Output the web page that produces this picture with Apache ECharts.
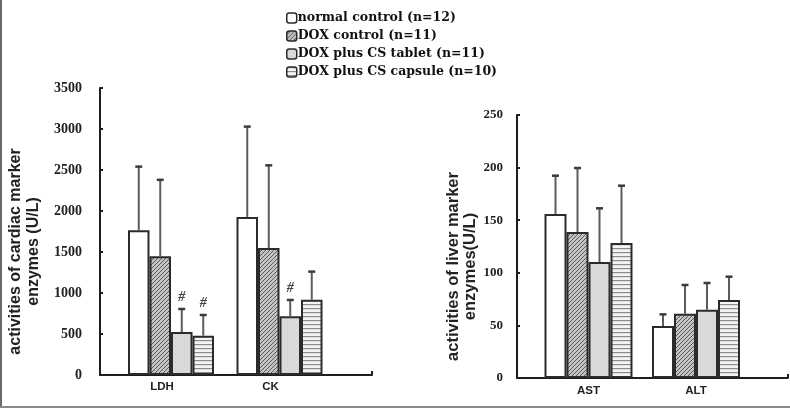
<!DOCTYPE html>
<html>
<head>
<meta charset="utf-8">
<script src="https://cdn.jsdelivr.net/npm/echarts@6/dist/echarts.min.js"></script>
<style>
  html, body { margin: 0; padding: 0; background: #fff; }
  #wrap { position: relative; width: 790px; height: 408px; }
  #chart { width: 790px; height: 408px; }
  #frameL { position: absolute; left: 0; top: 0; width: 2px; height: 408px; background: #6a6a6a; }
  #frameB { position: absolute; left: 0; top: 406px; width: 790px; height: 2px; background: #8a8a8a; }
</style>
</head>
<body>
<div id="wrap">
  <div id="chart"></div>
  <div id="frameL"></div>
  <div id="frameB"></div>
</div>
<script>
// ---------- data ----------
const groupNames = ['normal control (n=12)', 'DOX control (n=11)', 'DOX plus CS tablet (n=11)', 'DOX plus CS capsule (n=10)'];
const cardiacCategories = ['LDH', 'CK'];
const liverCategories = ['AST', 'ALT'];

// means per group: [first category, second category]
const cardiacNormal = [1765, 1927];
const cardiacDox = [1448, 1549];
const cardiacTablet = [524, 715];
const cardiacCapsule = [480, 919];
// standard deviations (upper error bars)
const cardiacNormalSD = [776, 1102];
const cardiacDoxSD = [932, 1008];
const cardiacTabletSD = [281, 200];
const cardiacCapsuleSD = [252, 342];
// significance marks
const cardiacNormalSig = ['', ''];
const cardiacDoxSig = ['', ''];
const cardiacTabletSig = ['#', '#'];
const cardiacCapsuleSig = ['#', ''];

const liverNormal = [156, 49.4];
const liverDox = [138.8, 61.1];
const liverTablet = [110.3, 64.9];
const liverCapsule = [128.3, 74.1];
const liverNormalSD = [36.3, 11.1];
const liverDoxSD = [60.8, 27.3];
const liverTabletSD = [51, 25.4];
const liverCapsuleSD = [54.5, 22.2];
const liverNormalSig = ['', ''];
const liverDoxSig = ['', ''];
const liverTabletSig = ['', ''];
const liverCapsuleSig = ['', ''];

const cardiacTicks = { min: 0, max: 3500, interval: 500 };
const liverTicks = { min: 0, max: 250, interval: 50 };

// ---------- patterns ----------
function makePattern(kind) {
  const c = document.createElement('canvas');
  const s = 4;
  c.width = s; c.height = s;
  const g = c.getContext('2d');
  if (kind === 'diag') {
    g.fillStyle = '#c4c4c4'; g.fillRect(0, 0, s, s);
    g.strokeStyle = '#5a5a5a'; g.lineWidth = 1;
    g.beginPath();
    g.moveTo(-1, s + 1); g.lineTo(s + 1, -1);
    g.moveTo(-1, 1); g.lineTo(1, -1);
    g.moveTo(s - 1, s + 1); g.lineTo(s + 1, s - 1);
    g.stroke();
  } else if (kind === 'horiz') {
    g.fillStyle = '#f4f4f4'; g.fillRect(0, 0, s, s);
    g.fillStyle = '#8c8c8c'; g.fillRect(0, 0, s, 1.2);
  }
  return c;
}
const fills = [
  '#ffffff',
  { image: makePattern('diag'), repeat: 'repeat' },
  '#d9d9d9',
  { image: makePattern('horiz'), repeat: 'repeat' }
];

const chart = echarts.init(document.getElementById('chart'), null, { renderer: 'canvas' });

const serifBold = { fontFamily: 'Liberation Serif', fontWeight: 'bold', color: '#222' };
const sansBold = { fontFamily: 'Liberation Sans', fontWeight: 'bold', color: '#222' };

function barSeries(name, gridIdx, values, bw) {
  return {
    type: 'bar', name: name, xAxisIndex: gridIdx, yAxisIndex: gridIdx,
    data: values, barWidth: bw, barGap: '0%',
    itemStyle: { color: fills[groupNames.indexOf(name)], borderColor: '#2b2b2b', borderWidth: 2 },
    emphasis: { disabled: true }, z: 2
  };
}
function errSeries(k, gridIdx, means, sds, sigs, bw) {
  return {
    type: 'custom', name: 'err' + gridIdx + '_' + k,
    xAxisIndex: gridIdx, yAxisIndex: gridIdx, z: 3, silent: true,
    data: means.map((m, i) => [i, m, m + sds[i], sigs[i]]),
    renderItem: function (params, api) {
      const ci = api.value(0);
      const base = api.coord([ci, api.value(1)]);
      const top = api.coord([ci, api.value(2)]);
      const x = base[0] + (k - 1.5) * bw;
      const children = [
        { type: 'line', shape: { x1: x, y1: base[1], x2: x, y2: top[1] }, style: { stroke: '#5c5c5c', lineWidth: 2 } },
        { type: 'line', shape: { x1: x - 3.5, y1: top[1], x2: x + 3.5, y2: top[1] }, style: { stroke: '#3c3c3c', lineWidth: 2.5 } }
      ];
      const sig = api.value(3);
      if (sig) {
        children.push({ type: 'text', style: { text: sig, x: x, y: top[1] - 5, align: 'center', verticalAlign: 'bottom',
          font: 'italic bold 14px "Liberation Serif"', fill: '#444' } });
      }
      return { type: 'group', children: children };
    }
  };
}

const cardiacSets = [
  [cardiacNormal, cardiacNormalSD, cardiacNormalSig],
  [cardiacDox, cardiacDoxSD, cardiacDoxSig],
  [cardiacTablet, cardiacTabletSD, cardiacTabletSig],
  [cardiacCapsule, cardiacCapsuleSD, cardiacCapsuleSig]
];
const liverSets = [
  [liverNormal, liverNormalSD, liverNormalSig],
  [liverDox, liverDoxSD, liverDoxSig],
  [liverTablet, liverTabletSD, liverTabletSig],
  [liverCapsule, liverCapsuleSD, liverCapsuleSig]
];

const bwL = 21.5, bwR = 22;
const series = [];
cardiacSets.forEach((s, k) => series.push(barSeries(groupNames[k], 1, s[0], bwL)));
liverSets.forEach((s, k) => series.push(barSeries(groupNames[k], 3, s[0], bwR)));
cardiacSets.forEach((s, k) => series.push(errSeries(k, 1, s[0], s[1], s[2], bwL)));
liverSets.forEach((s, k) => series.push(errSeries(k, 3, s[0], s[1], s[2], bwR)));

const axisLineStyle = { show: true, lineStyle: { color: '#1e1e1e', width: 2 } };
const plain = v => String(v);

chart.setOption({
  animation: false,
  backgroundColor: '#ffffff',
  legend: {
    data: groupNames, orient: 'vertical', left: 281, top: 6,
    itemWidth: 10, itemHeight: 10, itemGap: 4, icon: 'roundRect',
    itemStyle: { borderColor: '#2b2b2b', borderWidth: 1.5 },
    textStyle: { fontFamily: 'DejaVu Serif', fontWeight: 'bold', fontSize: 12.5, color: '#111', lineHeight: 14, padding: [0, 0, 0, -4] },
    selectedMode: false
  },
  grid: [
    { left: 100, top: 88, width: 272, height: 287 },
    { left: 116.75, top: 88, width: 217, height: 287 },
    { left: 517, top: 115, width: 271, height: 263 },
    { left: 534.75, top: 115, width: 215, height: 263 }
  ],
  xAxis: [
    { gridIndex: 0, type: 'value', min: 0, max: 1, interval: 1, axisLine: axisLineStyle,
      axisTick: { show: true, inside: true, length: 4, lineStyle: { color: '#1e1e1e', width: 2 } },
      axisLabel: { show: false }, splitLine: { show: false } },
    { gridIndex: 1, type: 'category', data: cardiacCategories, axisLine: { show: false }, axisTick: { show: false },
      axisLabel: Object.assign({ fontSize: 11.5, margin: 6, padding: [0, 18, 0, 0] }, sansBold) },
    { gridIndex: 2, type: 'value', min: 0, max: 1, interval: 1, axisLine: axisLineStyle,
      axisTick: { show: true, inside: true, length: 4, lineStyle: { color: '#1e1e1e', width: 2 } },
      axisLabel: { show: false }, splitLine: { show: false } },
    { gridIndex: 3, type: 'category', data: liverCategories, axisLine: { show: false }, axisTick: { show: false },
      axisLabel: Object.assign({ fontSize: 11.5, margin: 7 }, sansBold) }
  ],
  yAxis: [
    { gridIndex: 0, type: 'value', min: cardiacTicks.min, max: cardiacTicks.max, interval: cardiacTicks.interval,
      axisLine: axisLineStyle, axisTick: { show: true, inside: true, length: 3, lineStyle: { color: '#1e1e1e', width: 2 } },
      axisLabel: Object.assign({ fontSize: 14, margin: 18, formatter: plain }, serifBold), splitLine: { show: false },
      name: 'activities of cardiac marker\nenzymes (U/L)', nameLocation: 'middle', nameRotate: 90, nameGap: 57,
      nameTextStyle: Object.assign({ fontSize: 16, lineHeight: 18, align: 'center', padding: [0, 40, 0, 0] }, sansBold) },
    { gridIndex: 1, type: 'value', min: cardiacTicks.min, max: cardiacTicks.max, interval: cardiacTicks.interval, show: false },
    { gridIndex: 2, type: 'value', min: liverTicks.min, max: liverTicks.max, interval: liverTicks.interval,
      axisLine: axisLineStyle, axisTick: { show: true, inside: true, length: 3, lineStyle: { color: '#1e1e1e', width: 2 } },
      axisLabel: Object.assign({ fontSize: 13, margin: 14, formatter: plain }, serifBold), splitLine: { show: false },
      name: 'activities of liver marker\nenzymes(U/L)', nameLocation: 'middle', nameRotate: 90, nameGap: 38,
      nameTextStyle: Object.assign({ fontSize: 16.5, lineHeight: 17, align: 'center', padding: [0, 40, 0, 0] }, sansBold) },
    { gridIndex: 3, type: 'value', min: liverTicks.min, max: liverTicks.max, interval: liverTicks.interval, show: false }
  ],
  series: series
});
</script>
</body>
</html>
